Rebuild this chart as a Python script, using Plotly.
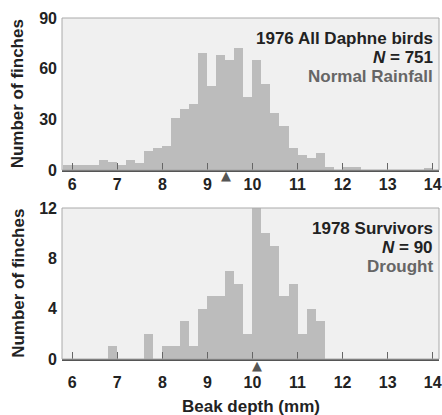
import plotly.graph_objects as go

# ---- data ----
bin_width = 0.2
top_bin_centers = [5.9, 6.1, 6.3, 6.5, 6.7, 6.9, 7.1, 7.3, 7.5, 7.7, 7.9, 8.1, 8.3, 8.5, 8.7,
                   8.9, 9.1, 9.3, 9.5, 9.7, 9.9, 10.1, 10.3, 10.5, 10.7, 10.9, 11.1, 11.3,
                   11.5, 11.7, 12.1, 12.3, 13.9]
top_counts = [3, 3, 3, 3, 6, 5, 3, 6, 4, 11, 13, 14, 31, 36, 39,
              69, 50, 68, 65, 72, 43, 65, 51, 34, 26, 13, 9, 7,
              10, 2, 2, 2, 1]
bottom_bin_centers = [6.9, 7.7, 8.1, 8.3, 8.5, 8.7, 8.9, 9.1, 9.3, 9.5, 9.7, 9.9,
                      10.1, 10.3, 10.5, 10.7, 10.9, 11.1, 11.3, 11.5]
bottom_counts = [1, 2, 1, 1, 3, 1, 4, 5, 5, 7, 6, 2, 12, 10, 9, 5, 6, 2, 4, 3]
top_mean = 9.42
bottom_mean = 10.1
x_ticks = [6, 7, 8, 9, 10, 11, 12, 13, 14]
top_y_ticks = [0, 30, 60, 90]
bottom_y_ticks = [0, 4, 8, 12]
top_label = ["1976 All Daphne birds", "<i>N</i> = 751", "Normal Rainfall"]
bottom_label = ["1978 Survivors", "<i>N</i> = 90", "Drought"]

FONT = "Liberation Sans, Arial, sans-serif"
BAR = "#bcbcbc"
BG = "#f0f0f0"
DARK = "#222222"

fig = go.Figure()
fig.add_trace(go.Bar(x=top_bin_centers, y=top_counts, width=bin_width,
                     marker=dict(color=BAR, line=dict(width=0)),
                     xaxis="x", yaxis="y", showlegend=False))
fig.add_trace(go.Bar(x=bottom_bin_centers, y=bottom_counts, width=bin_width,
                     marker=dict(color=BAR, line=dict(width=0)),
                     xaxis="x2", yaxis="y2", showlegend=False))

xr = [5.773, 14.14]
xcommon = dict(range=xr, tickvals=x_ticks, ticks="inside", ticklen=7, tickwidth=1,
               tickcolor="#666666", showline=True, linecolor="#555555", linewidth=2,
               showgrid=False, zeroline=False, ticklabeloverflow="allow",
               tickfont=dict(family=FONT, size=16, color=DARK, weight="bold"))
ycommon = dict(showline=False, showgrid=False, zeroline=False, ticks="",
               ticklabelstandoff=4,
               tickfont=dict(family=FONT, size=16, color=DARK, weight="bold"))

fig.update_layout(
    width=442, height=415,
    margin=dict(l=62, r=0, t=18, b=56),
    paper_bgcolor="white", plot_bgcolor=BG,
    bargap=0,
    xaxis=dict(domain=[0, 1], anchor="y", ticklabelstandoff=-1, **xcommon),
    yaxis=dict(domain=[0.5543, 1], anchor="x", range=[0, 90], tickvals=top_y_ticks, **ycommon),
    xaxis2=dict(domain=[0, 1], anchor="y2", ticklabelstandoff=8, **xcommon),
    yaxis2=dict(domain=[0, 0.4428], anchor="x2", range=[0, 12], tickvals=bottom_y_ticks, **ycommon),
)

# plot-area borders
for yref in ["y domain", "y2 domain"]:
    xref = "x domain" if yref == "y domain" else "x2 domain"
    fig.add_shape(type="rect", xref=xref, yref=yref, x0=0, x1=1, y0=0, y1=1,
                  line=dict(color="#aaaaaa", width=1), layer="above")

# mean markers (triangles under the axis)
for xv, xref, yref, ys in [(top_mean, "x", "y domain", -6), (bottom_mean, "x2", "y2 domain", -6)]:
    fig.add_annotation(text="▲", x=xv, xref=xref, y=0, yref=yref, yshift=ys,
                       xanchor="center", yanchor="middle", showarrow=False,
                       font=dict(family="DejaVu Sans", size=13, color="#555555"))

# panel labels
def add_label(lines, yref):
    colors = [DARK, DARK, "#666666"]
    for i, (t, c) in enumerate(zip(lines, colors)):
        fig.add_annotation(text=f"<b>{t}</b>", xref="paper", yref=yref,
                           x=0.979, y=1, xshift=4, yshift=-20 - 19 * i,
                           xanchor="right", yanchor="middle", showarrow=False,
                           font=dict(family=FONT, size=17, color=c))

add_label(top_label, "y domain")
add_label(bottom_label, "y2 domain")

# y-axis titles
for yref in ["y domain", "y2 domain"]:
    fig.add_annotation(text="<b>Number of finches</b>", xref="paper", yref=yref,
                       x=-0.1158, y=0.5, xanchor="center", yanchor="middle",
                       textangle=-90, showarrow=False,
                       font=dict(family=FONT, size=17, color=DARK))

# x-axis title
fig.add_annotation(text="<b>Beak depth (mm)</b>", xref="paper", yref="paper",
                   x=0.5, y=0, yshift=-47, xanchor="center", yanchor="middle",
                   showarrow=False, font=dict(family=FONT, size=17, color=DARK))

fig.write_html("out.html", config={"displayModeBar": False},
               post_script="document.body.style.margin='0';document.body.style.overflow='hidden';")
